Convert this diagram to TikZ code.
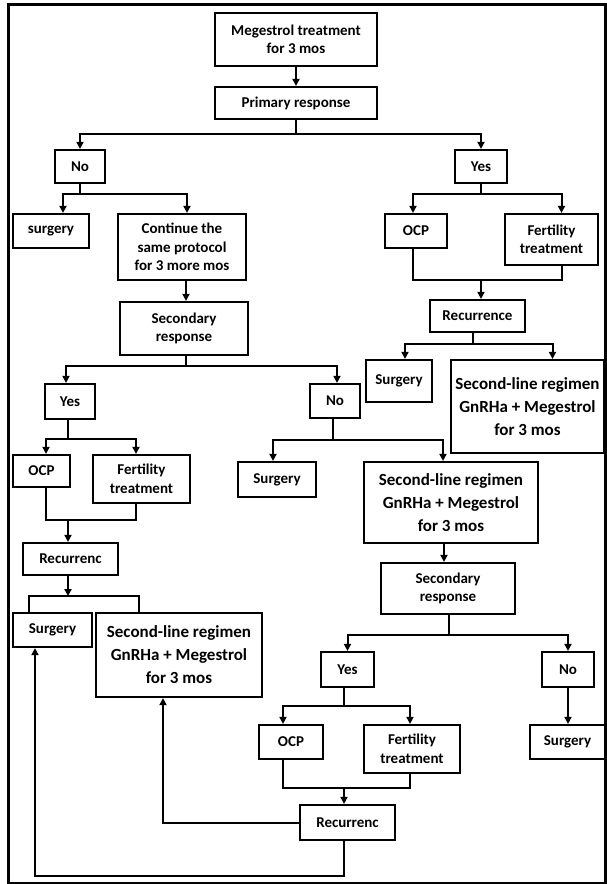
\documentclass[tikz,border=0pt]{standalone}
\usepackage{fontspec}
\setmainfont{Carlito}
\usetikzlibrary{arrows.meta, positioning}

\tikzset{
  box/.style = {draw, line width = 2.2pt, align = center, inner sep = 0pt,
    font = \bfseries\fontsize{15}{18.5}\selectfont},
  bigbox/.style = {box, font = \bfseries\fontsize{17}{23}\selectfont},
  sz/.style 2 args = {minimum width = #1pt, minimum height = #2pt},
  line/.style = {line width = 2pt},
  arr/.style = {line, -{Triangle[length = 7pt, width = 7pt]}}
}

\begin{document}
\begin{tikzpicture}[x = 1pt, y = -1pt]
      \useasboundingbox (0,0) rectangle (607,884);
      \draw [line width = 3pt] (8,4) rectangle (605,883);

      \node [box, sz = {162}{53}] (meg) at (296,39.5)
        {Megestrol treatment\\for 3 mos};
      \node [box, sz = {162}{32}] (prim) at (296,103) {Primary response};
      \node [box, sz = {50}{33}] (no1) at (80,166.5) {No};
      \node [box, sz = {52}{33}] (yes1) at (481,166.5) {Yes};
      \node [box, sz = {76}{34}] (surg1) at (51,231) {surgery};
      \node [box, sz = {128}{66}] (cont) at (182,247)
        {Continue the\\same protocol\\for 3 more mos};
      \node [box, sz = {62}{34}] (ocp1) at (416,231) {OCP};
      \node [box, sz = {93}{51}] (fert1) at (551.5,239.5) {Fertility\\treatment};
      \node [box, sz = {128}{53}] (sec1) at (184,328.5) {Secondary\\response};
      \node [box, sz = {95}{32}] (rec1) at (477.5,316) {Recurrence};
      \node [box, sz = {66}{42}] (surg1r) at (399,381) {Surgery};
      \node [bigbox, sz = {153}{93}] (sl1) at (527.5,406.5)
        {Second-line regimen\\GnRHa + Megestrol\\for 3 mos};

      \node [box, sz = {50}{35}] (yes2) at (70,401.5) {Yes};
      \node [box, sz = {50}{34}] (no2) at (335,401) {No};
      \node [box, sz = {57}{32}] (ocp2) at (41.5,471) {OCP};
      \node [box, sz = {97}{48}] (fert2) at (141.5,479) {Fertility\\treatment};
      \node [box, sz = {95}{32}] (rec2) at (70.5,559) {Recurrenc};
      \node [box, sz = {79}{34}] (surg3) at (52.5,630) {Surgery};
      \node [bigbox, sz = {166}{84}] (sl3) at (179,655)
        {Second-line regimen\\GnRHa + Megestrol\\for 3 mos};

      \node [box, sz = {78}{35}] (surg2) at (277,479.5) {Surgery};
      \node [bigbox, sz = {174}{81}] (sl2) at (451,502.5)
        {Second-line regimen\\GnRHa + Megestrol\\for 3 mos};
      \node [box, sz = {134}{51}] (sec2) at (448,588.5) {Secondary\\response};
      \node [box, sz = {53}{35}] (yes3) at (347.5,669.5) {Yes};
      \node [box, sz = {52}{35}] (no3) at (568,669.5) {No};
      \node [box, sz = {64}{34}] (ocp3) at (291,742) {OCP};
      \node [box, sz = {96}{48}] (fert3) at (412,749) {Fertility\\treatment};
      \node [box, sz = {75}{34}] (surg4) at (567.5,742) {Surgery};
      \node [box, sz = {95}{35}] (rec3) at (347.5,822.5) {Recurrenc};

      \draw [arr] (meg) -- (prim);
      \draw [line] (prim.south) -- ++(0,14) coordinate (b1);
      \draw [arr] (b1) -| (no1);
      \draw [arr] (b1) -| (yes1);

      \draw [line] (no1.south) -- ++(0,10) coordinate (b2);
      \draw [arr] (b2) -| ([xshift = 12pt] surg1.north);
      \draw [arr] (b2) -| ([xshift = 5pt] cont.north);
      \draw [line] (yes1.south) -- ++(0,10) coordinate (b3);
      \draw [arr] (b3) -| ([xshift = -3pt] ocp1.north);
      \draw [arr] (b3) -| ([xshift = 10pt] fert1.north);

      \coordinate (j1) at (481,280);
      \draw [line] ([xshift = -3pt] ocp1.south) |- (j1)
        -| ([xshift = 10pt] fert1.south);
      \draw [arr] (j1) -- (j1 |- rec1.north);
      \draw [line] ([xshift = -5pt] rec1.south) -- ++(0,11) coordinate (b4);
      \draw [arr] (b4) -| ([xshift = 6pt] surg1r.north);
      \draw [arr] (b4) -| ([xshift = 25pt] sl1.north);

      \draw [arr] ([xshift = 4pt] cont.south) -- ([xshift = 2pt] sec1.north);
      \draw [line] ([xshift = 2pt] sec1.south) -- ++(0,10) coordinate (b5);
      \draw [arr] (b5) -| ([xshift = -4pt] yes2.north);
      \draw [arr] (b5) -| ([xshift = 2pt] no2.north);

      \draw [line] ([xshift = -2pt] yes2.south) -- ++(0,19) coordinate (b6);
      \draw [arr] (b6) -| ([xshift = 4.5pt] ocp2.north);
      \draw [arr] (b6) -| ([xshift = -5.5pt] fert2.north);
      \coordinate (j2) at (68,520);
      \draw [line] ([xshift = 4.5pt] ocp2.south) |- (j2)
        -| ([xshift = -5.5pt] fert2.south);
      \draw [arr] (j2) -- (j2 |- rec2.north);
      \draw [arr] (j2 |- rec2.south) -- ++(0,20) coordinate (b7);
      \draw [line] (b7) -| ([xshift = -23.5pt] surg3.north);
      \draw [line] (b7) -| ([xshift = -40pt] sl3.north);

      \draw [line] ([xshift = -2pt] no2.south) -- ++(0,21) coordinate (b8);
      \draw [arr] (b8) -| ([xshift = -4pt] surg2.north);
      \draw [arr] (b8) -| ([xshift = -8pt] sl2.north);
      \draw [arr] ([xshift = -7pt] sl2.south) -- ([xshift = -4pt] sec2.north);
      \draw [line] ([xshift = 1pt] sec2.south) -- ++(0,20) coordinate (b9);
      \draw [arr] (b9) -| (yes3);
      \draw [arr] (b9) -| (no3);
      \draw [arr] (no3.south) -- (no3.south |- surg4.north);

      \draw [line] ([xshift = -3.5pt] yes3.south) -- ++(0,18) coordinate (b10);
      \draw [arr] (b10) -| ([xshift = -8pt] ocp3.north);
      \draw [arr] (b10) -| ([xshift = -2pt] fert3.north);
      \coordinate (j3) at (344,788);
      \draw [line] ([xshift = -8pt] ocp3.south) |- (j3)
        -| ([xshift = -2pt] fert3.south);
      \draw [arr] (j3) -- (j3 |- rec3.north);

      \draw [arr] (rec3.west) -| ([xshift = -16pt] sl3.south);
      \draw [arr] ([xshift = -3.5pt] rec3.south) -- ++(0,35)
        -| ([xshift = -17.5pt] surg3.south);
    \end{tikzpicture}
\end{document}
